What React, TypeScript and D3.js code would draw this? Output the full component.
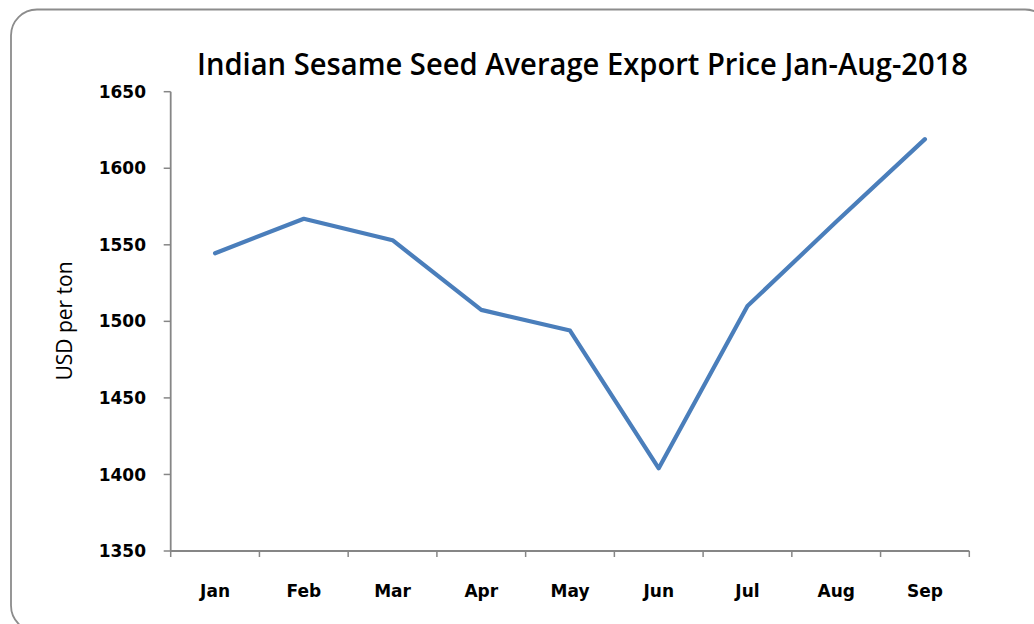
import React from "react";
import * as d3 from "d3";

const months = ["Jan", "Feb", "Mar", "Apr", "May", "Jun", "Jul", "Aug", "Sep"];
const prices = [1544.5, 1567, 1553, 1507.5, 1494, 1404, 1510, 1565, 1619];
const yTicks = [1350, 1400, 1450, 1500, 1550, 1600, 1650];
const title = "Indian Sesame Seed Average Export Price Jan-Aug-2018";
const yTitle = "USD per ton";

export default function App() {
  const W = 1034;
  const H = 624;
  const x0 = 170.7;
  const x1 = 969.3;
  const yTop = 91.7;
  const yBot = 551;

  const x = d3.scaleBand<string>().domain(months).range([x0, x1]).padding(0);
  const y = d3.scaleLinear().domain([1350, 1650]).range([yBot, yTop]);

  const line = d3
    .line<number>()
    .x((_, i) => (x(months[i]) as number) + x.bandwidth() / 2)
    .y((d) => y(d));

  const axisColor = "#868686";
  const tickFont = "'DejaVu Sans', Verdana, sans-serif";
  const bandEdges = months.map((m) => x(m) as number).concat([x1]);

  return (
    <svg
      width={W}
      height={H}
      style={{ position: "absolute", left: 0, top: 0, background: "#fff" }}
    >
      <rect
        x={11}
        y={9.5}
        width={1040}
        height={622}
        rx={26}
        ry={26}
        fill="#fff"
        stroke="#8c8c8c"
        strokeWidth={1.8}
      />
      <text
        x={197}
        y={75}
        fontFamily="'Open Sans', 'Liberation Sans', sans-serif"
        fontSize={30}
        fontWeight={600}
        textLength={771}
        lengthAdjust="spacingAndGlyphs"
        fill="#000"
      >
        {title}
      </text>
      <text
        transform={`translate(72,321) rotate(-90)`}
        textAnchor="middle"
        fontFamily="'Open Sans', 'Liberation Sans', sans-serif"
        fontSize={21}
        fontWeight={500}
        fill="#000"
      >
        {yTitle}
      </text>
      {/* y axis */}
      <line x1={x0} x2={x0} y1={yTop} y2={yBot} stroke={axisColor} strokeWidth={1.8} />
      {yTicks.map((t) => (
        <g key={t}>
          <line x1={x0 - 7} x2={x0} y1={y(t)} y2={y(t)} stroke={axisColor} strokeWidth={1.5} />
          <text
            x={146}
            y={y(t)}
            dy="0.36em"
            textAnchor="end"
            fontFamily={tickFont}
            fontWeight="bold"
            fontSize={17}
            fill="#000"
          >
            {t}
          </text>
        </g>
      ))}
      {/* x axis */}
      <line x1={x0} x2={x1} y1={yBot} y2={yBot} stroke={axisColor} strokeWidth={1.8} />
      {bandEdges.map((e, i) => (
        <line key={i} x1={e} x2={e} y1={yBot} y2={yBot + 6} stroke={axisColor} strokeWidth={1.5} />
      ))}
      {months.map((m) => (
        <text
          key={m}
          x={(x(m) as number) + x.bandwidth() / 2}
          y={597}
          textAnchor="middle"
          fontFamily={tickFont}
          fontWeight="bold"
          fontSize={17}
          fill="#000"
        >
          {m}
        </text>
      ))}
      <path
        d={line(prices) || ""}
        fill="none"
        stroke="#4a7ebb"
        strokeWidth={4.2}
        strokeLinejoin="round"
        strokeLinecap="round"
      />
    </svg>
  );
}
